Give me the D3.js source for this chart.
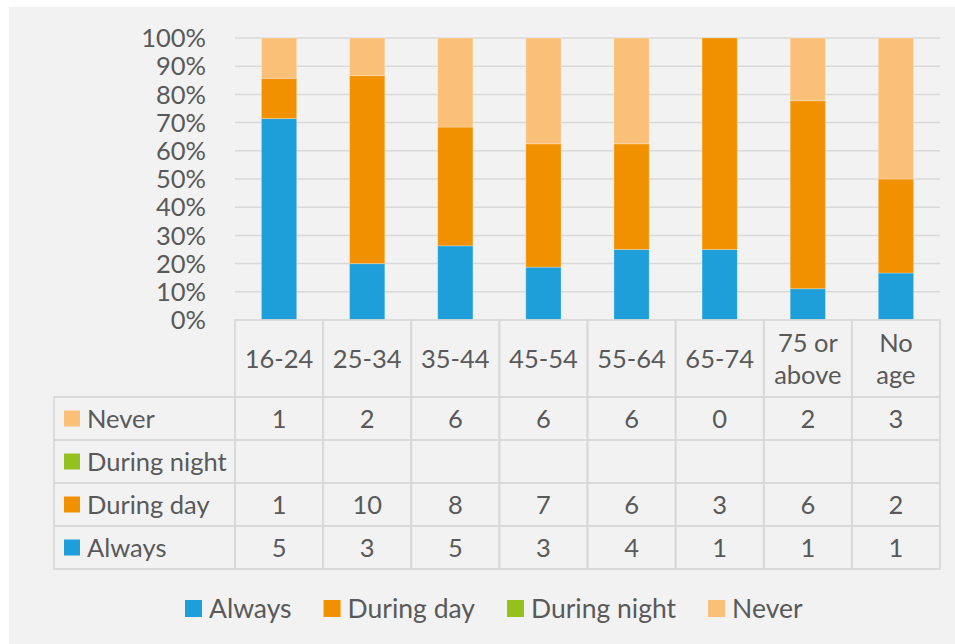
<!DOCTYPE html>
<html lang="en">
<head>
    <meta charset="UTF-8">
    <title>Use by age group</title>
    <style>
        body{
            margin: 0;
            background-color: #ffffff;
        }
        svg text{
            font-family: Lato, "Open Sans", sans-serif;
            font-size: 25.5px;
            fill: #595959;
        }
        .legend text{
            font-size: 26.5px;
        }
        .grid line{
            stroke: #d9d9d9;
            stroke-width: 1.5px;
        }
        .cell{
            fill: none;
            stroke: #d9d9d9;
            stroke-width: 1.8px;
        }
    </style>
    <script src="https://cdn.jsdelivr.net/npm/d3@7"></script>
</head>
<body>
<script>

    const categories = ["16-24", "25-34", "35-44", "45-54", "55-64", "65-74", "75 or above", "No age"];
    const headerLines = [["16-24"], ["25-34"], ["35-44"], ["45-54"], ["55-64"], ["65-74"], ["75 or", "above"], ["No", "age"]];
    const seriesNames = ["Always", "During day", "During night", "Never"];
    const always = [5, 3, 5, 3, 4, 1, 1, 1];
    const duringDay = [1, 10, 8, 7, 6, 3, 6, 2];
    const duringNight = [null, null, null, null, null, null, null, null];
    const never = [1, 2, 6, 6, 6, 0, 2, 3];
    const yTicks = [0, 0.1, 0.2, 0.3, 0.4, 0.5, 0.6, 0.7, 0.8, 0.9, 1];

    const colors = {
        "Always": "#1f9fda",
        "During day": "#f29100",
        "During night": "#95c11f",
        "Never": "#fbc078"
    };

    const width = 955;
    const height = 644;
    const margins = {top: 38, left: 235, right: 15};
    const plotBottom = 320;
    const headerBottom = 397;
    const rowH = 43;
    const tableLeft = 54;

    const svg = d3.select("body").append("svg")
        .attr("width", width)
        .attr("height", height);

    // grey panel
    svg.append("rect")
        .attr("x", 9).attr("y", 7)
        .attr("width", width - 9).attr("height", height - 7)
        .attr("fill", "#f2f2f2");

    const rows = categories.map((c, i) => ({
        cat: c,
        "Always": always[i],
        "During day": duringDay[i],
        "During night": duringNight[i] || 0,
        "Never": never[i]
    }));

    const stacked = d3.stack()
        .keys(seriesNames)
        .offset(d3.stackOffsetExpand)(rows);

    const xScale = d3.scaleBand()
        .domain(categories)
        .range([margins.left, width - margins.right])
        .paddingInner(0.6)
        .paddingOuter(0.3);

    const yScale = d3.scaleLinear()
        .domain([0, 1])
        .range([plotBottom, margins.top]);

    // gridlines + tick labels
    const grid = svg.append("g").attr("class", "grid");
    grid.selectAll("line")
        .data(yTicks.filter(t => t > 0))
        .enter()
        .append("line")
        .attr("x1", margins.left)
        .attr("x2", width - margins.right)
        .attr("y1", d => yScale(d))
        .attr("y2", d => yScale(d));

    svg.append("g")
        .selectAll("text")
        .data(yTicks)
        .enter()
        .append("text")
        .attr("x", 206)
        .attr("y", d => yScale(d))
        .attr("dy", "0.36em")
        .attr("text-anchor", "end")
        .text(d => d3.format(".0%")(d));

    // bars
    svg.append("g")
        .selectAll("g")
        .data(stacked)
        .enter()
        .append("g")
        .attr("fill", d => colors[d.key])
        .selectAll("rect")
        .data(d => d)
        .enter()
        .append("rect")
        .attr("x", d => xScale(d.data.cat))
        .attr("width", xScale.bandwidth())
        .attr("y", d => yScale(d[1]))
        .attr("height", d => yScale(d[0]) - yScale(d[1]))
        .attr("stroke", "#ffffff")
        .attr("stroke-opacity", 0.25)
        .attr("stroke-width", 1);

    /*---------------- data table ----------------*/
    const step = xScale.step();
    const colLeft = c => xScale(c) - (step - xScale.bandwidth()) / 2;

    const table = svg.append("g");

    // header cells
    table.selectAll(".head")
        .data(categories)
        .enter()
        .append("rect")
        .attr("class", "cell")
        .attr("x", d => colLeft(d))
        .attr("y", plotBottom)
        .attr("width", step)
        .attr("height", headerBottom - plotBottom);

    const headText = table.selectAll(".headText")
        .data(categories)
        .enter()
        .append("text")
        .attr("text-anchor", "middle")
        .attr("x", d => xScale(d) + xScale.bandwidth() / 2)
        .attr("y", (plotBottom + headerBottom) / 2);

    headText.selectAll("tspan")
        .data((d, i) => headerLines[i].map((l, j, a) => ({l, j, n: a.length})))
        .enter()
        .append("tspan")
        .attr("x", function () { return d3.select(this.parentNode).attr("x"); })
        .attr("dy", d => d.j === 0 ? `${0.36 - (d.n - 1) * 0.63}em` : "1.26em")
        .text(d => d.l);

    const tableRows = [
        {name: "Never", values: never},
        {name: "During night", values: duringNight},
        {name: "During day", values: duringDay},
        {name: "Always", values: always}
    ];

    const rowG = table.selectAll(".row")
        .data(tableRows)
        .enter()
        .append("g")
        .attr("transform", (d, i) => `translate(0,${headerBottom + i * rowH})`);

    rowG.append("rect")
        .attr("class", "cell")
        .attr("x", tableLeft)
        .attr("width", margins.left - tableLeft)
        .attr("height", rowH);

    rowG.append("rect")
        .attr("x", 64)
        .attr("y", rowH / 2 - 8)
        .attr("width", 16)
        .attr("height", 16)
        .attr("fill", d => colors[d.name]);

    rowG.append("text")
        .attr("x", 87)
        .attr("y", rowH / 2)
        .attr("dy", "0.36em")
        .text(d => d.name);

    rowG.selectAll(".val")
        .data(d => d.values.map((v, i) => ({v, cat: categories[i]})))
        .enter()
        .append("rect")
        .attr("class", "cell")
        .attr("x", d => colLeft(d.cat))
        .attr("width", step)
        .attr("height", rowH);

    rowG.selectAll(".valText")
        .data(d => d.values.map((v, i) => ({v, cat: categories[i]})))
        .enter()
        .append("text")
        .attr("text-anchor", "middle")
        .attr("x", d => xScale(d.cat) + xScale.bandwidth() / 2)
        .attr("y", rowH / 2)
        .attr("dy", "0.36em")
        .text(d => d.v === null ? "" : d.v);

    /*---------------- legend ----------------*/
    const legend = svg.append("g")
        .attr("class", "legend")
        .attr("transform", "translate(0,608.5)");
    let lx = 185;
    seriesNames.forEach(name => {
        legend.append("rect")
            .attr("x", lx)
            .attr("y", -8.5)
            .attr("width", 17)
            .attr("height", 17)
            .attr("fill", colors[name]);
        const t = legend.append("text")
            .attr("x", lx + 24)
            .attr("dy", "0.36em")
            .text(name);
        lx += 24 + t.node().getComputedTextLength() + 32;
    });

</script>
</body>
</html>
